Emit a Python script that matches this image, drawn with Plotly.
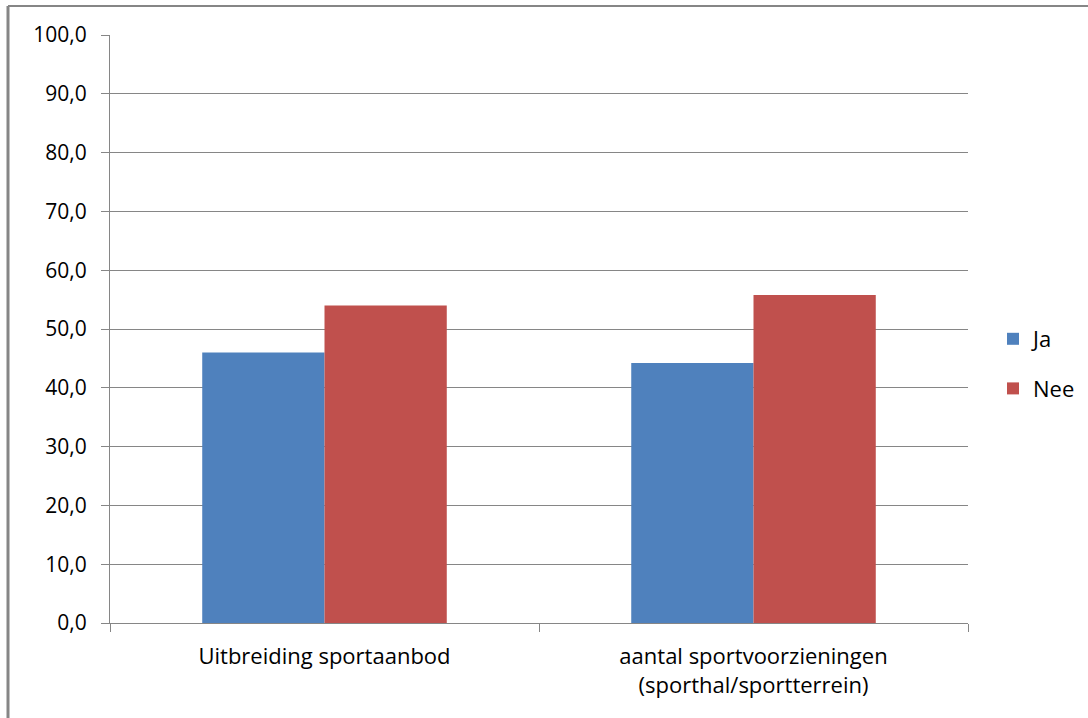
import plotly.graph_objects as go

categories = ["Uitbreiding sportaanbod", "aantal sportvoorzieningen<br>(sporthal/sportterrein)"]
ja_values = [46.0, 44.2]
nee_values = [54.0, 55.8]
y_ticks = [0, 10, 20, 30, 40, 50, 60, 70, 80, 90, 100]

W, H = 1088, 718
L, R, T, B = 110, 120, 35, 95
pw, ph = W - L - R, H - T - B

grid = "#868686"
font = "Open Sans, Arial, sans-serif"

fig = go.Figure()
fig.add_trace(go.Bar(name="Ja", x=categories, y=ja_values, marker_color="#4F81BD",
                     marker_line_width=0, legendgroup="ja"))
fig.add_trace(go.Bar(name="Nee", x=categories, y=nee_values, marker_color="#C0504D",
                     marker_line_width=0, legendgroup="nee"))

def px_x(p):
    return (p - L) / pw

def px_y(p):
    return (H - B - p) / ph

fig.update_layout(
    width=W, height=H,
    margin=dict(l=L, r=R, t=T, b=B, autoexpand=False),
    paper_bgcolor="white", plot_bgcolor="white",
    barmode="group", bargap=0.43, bargroupgap=0,
    separators=",.",
    font=dict(family=font, size=21, color="#000000"),
    legend=dict(x=px_x(993), y=px_y(364), xanchor="left", yanchor="middle",
                font=dict(size=22), itemwidth=30, tracegroupgap=18,
                traceorder="grouped", bgcolor="rgba(0,0,0,0)"),
    xaxis=dict(showgrid=False, showline=True, linecolor=grid, linewidth=1,
               ticks="outside", ticklen=8, tickcolor=grid, tickson="boundaries",
               tickfont=dict(size=22), ticklabelstandoff=14, fixedrange=True),
    yaxis=dict(range=[0, 100], tickvals=y_ticks, tickformat=".1f",
               showgrid=True, gridcolor=grid, gridwidth=1,
               showline=True, linecolor=grid, linewidth=1,
               ticks="outside", ticklen=8, tickcolor=grid,
               tickfont=dict(size=21), ticklabelstandoff=10,
               zeroline=False, fixedrange=True),
    shapes=[
        dict(type="line", xref="paper", yref="paper",
             x0=px_x(8), x1=px_x(1088), y0=px_y(6), y1=px_y(6),
             line=dict(color=grid, width=2)),
        dict(type="line", xref="paper", yref="paper",
             x0=px_x(8), x1=px_x(8), y0=px_y(6), y1=px_y(718),
             line=dict(color=grid, width=3)),
    ],
)

fig.write_html("out.html", config={"displayModeBar": False},
               post_script="document.body.style.margin='0';document.body.style.overflow='hidden';")
